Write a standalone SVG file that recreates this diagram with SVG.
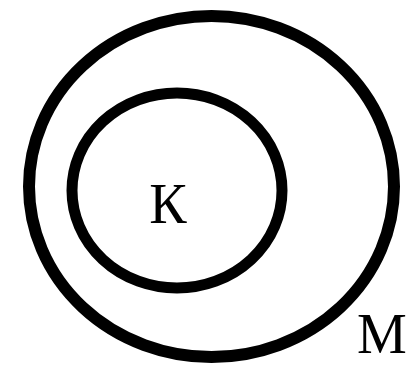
<svg xmlns="http://www.w3.org/2000/svg" width="407" height="370" viewBox="0 0 407 370">
<style>
.c{fill:none;stroke:#000;}
.t{font-family:"Liberation Serif","Times New Roman",serif;font-size:56px;fill:#000;}
</style>
<rect width="407" height="370" fill="#fff"/>
<g id="M">
<ellipse class="c" cx="211.5" cy="186.5" rx="182.5" ry="170.5" stroke-width="12"/>
<text class="t" x="357" y="353">М</text>
</g>
<g id="K">
<ellipse class="c" cx="177" cy="190.5" rx="105" ry="97.5" stroke-width="11"/>
<text class="t" x="168" y="223" text-anchor="middle">К</text>
</g>
<g id="connectors"/>
</svg>
